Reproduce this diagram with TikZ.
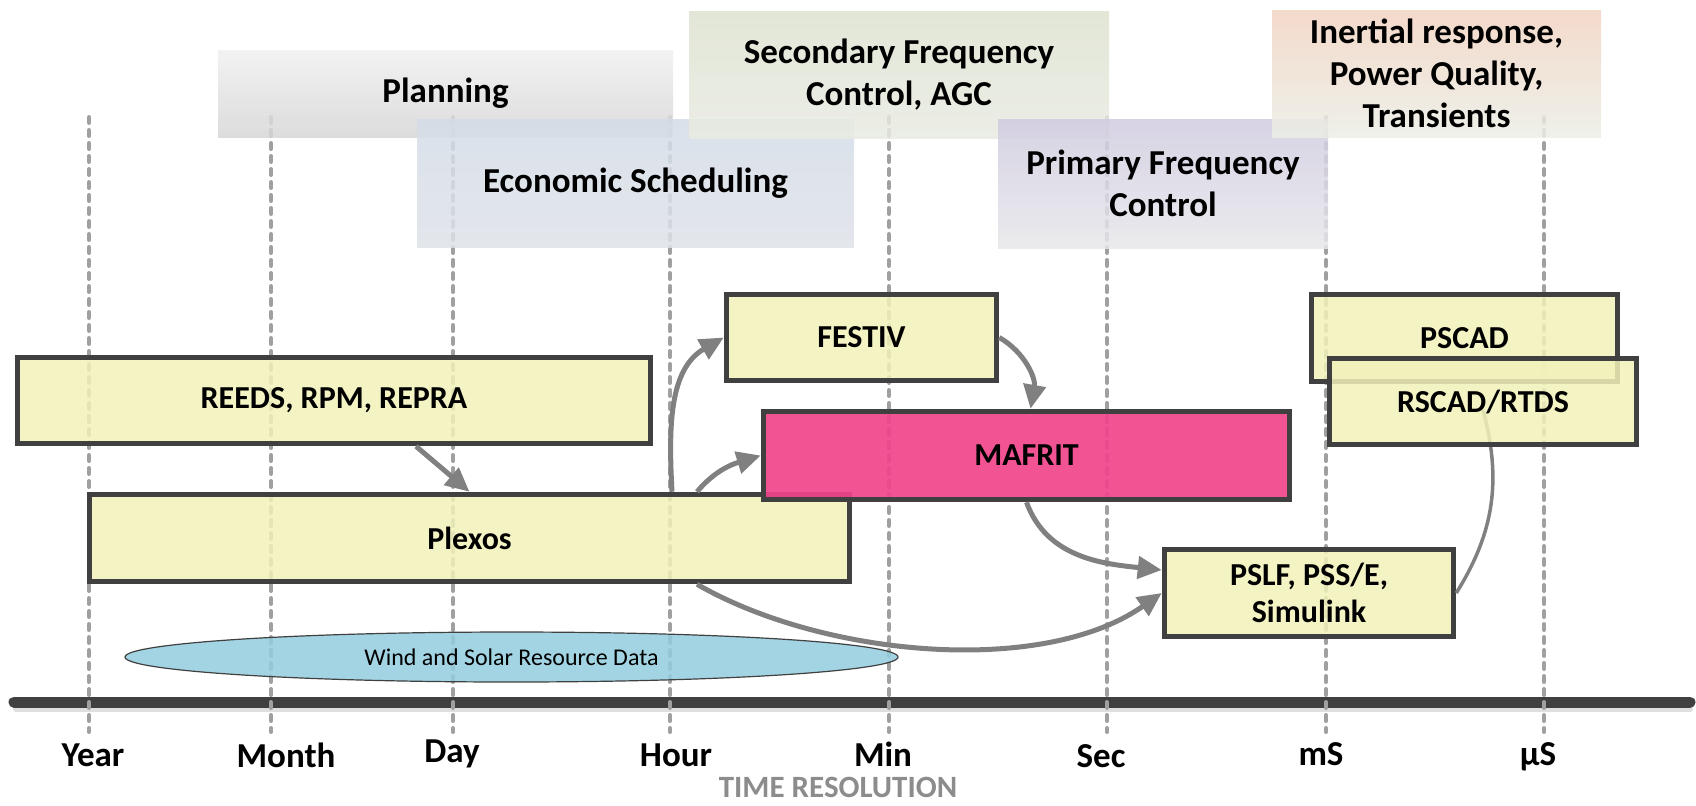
\documentclass[tikz,border=0pt]{standalone}
\usepackage{fontspec}
\setmainfont{Carlito}
\usetikzlibrary{arrows.meta,shapes.geometric}

\definecolor{toolfill}{RGB}{241,241,185}
\definecolor{toolline}{RGB}{64,64,64}
\definecolor{mafritfill}{RGB}{240,68,138}
\definecolor{gridgray}{RGB}{160,160,160}
\definecolor{flowgray}{RGB}{128,128,128}
\definecolor{windfill}{RGB}{146,205,222}
\definecolor{axisgray}{RGB}{64,64,64}
\definecolor{titlegray}{RGB}{140,140,140}

\tikzset{
  catbox/.style={draw=none, inner sep=0pt, outer sep=0pt, align=center,
    font=\fontsize{17.5}{21}\selectfont\bfseries, fill opacity=0.85, text opacity=1},
  toolbox/.style={draw=toolline, line width=2.75pt, fill=toolfill, fill opacity=0.85,
    draw opacity=1, text opacity=1, inner sep=0pt, align=center,
    font=\fontsize{16}{18.5}\selectfont\bfseries},
  flow/.style={flowgray, line width=2.5pt, -{Triangle[length=12pt,width=11pt]}},
  gridline/.style={gridgray, line width=2pt, line cap=round, dash pattern=on 3pt off 3.5pt},
  axislab/.style={font=\fontsize{17.5}{21}\selectfont\bfseries, anchor=base, inner sep=0pt},
}

\begin{document}
\begin{tikzpicture}[x=0.5pt,y=-0.5pt]
\useasboundingbox (0,0) rectangle (1696,805);

%% time axis
\draw[gray!25, line width=3pt, line cap=round] (16,709) -- (1690,709);
\draw[axisgray, line width=5.5pt, line cap=round] (14,702) -- (1690,702);
\foreach \x in {89,271,453,670,889,1107,1326,1544}{
  \draw[gridline] (\x,117) -- (\x,732);
}
\foreach \x/\lab/\yy in {93/Year/766, 286/Month/767, 452/Day/762, 676/Hour/766,
    883/Min/766, 1101/Sec/767, 1321/mS/765, 1538/µS/765}{
  \node[axislab] (lab\lab) at (\x,\yy) {\lab};
}
\node[axislab, font=\fontsize{15.5}{19}\selectfont\bfseries, text=titlegray] (resol) at (838,797) {TIME RESOLUTION};

%% background categories
\node[catbox, top color={rgb,255:red,240;green,240;blue,240}, bottom color={rgb,255:red,214;green,214;blue,214},
  minimum width=227.5pt, minimum height=43.5pt] (plan) at (445.5,93.5) {Planning};
\node[catbox, top color={rgb,255:red,212;green,220;blue,231}, bottom color={rgb,255:red,222;green,226;blue,232},
  minimum width=218.5pt, minimum height=64pt] (econ) at (635.5,183) {Economic Scheduling};
\node[catbox, top color={rgb,255:red,221;green,226;blue,207}, bottom color={rgb,255:red,232;green,235;blue,226},
  minimum width=210pt, minimum height=63.5pt] (second) at (899,74.5) {Secondary Frequency\\Control, AGC};
\node[catbox, top color={rgb,255:red,208;green,203;blue,224}, bottom color={rgb,255:red,231;green,231;blue,234},
  minimum width=165pt, minimum height=64.5pt] (prim) at (1163,183.5) {Primary Frequency\\Control};
\node[catbox, top color={rgb,255:red,242;green,211;blue,194}, bottom color={rgb,255:red,235;green,238;blue,230},
  minimum width=164.5pt, minimum height=63.5pt] (inert) at (1436.5,73.5) {Inertial response,\\Power Quality,\\Transients};

%% tools
\node[ellipse, draw=toolline, line width=0.6pt, fill=windfill, fill opacity=0.85, text opacity=1,
  minimum width=386.5pt, minimum height=25pt, inner sep=0pt,
  font=\fontsize{12}{14}\selectfont] (wind) at (511.5,657) {Wind and Solar Resource Data};
\node[toolbox, minimum width=316.5pt, minimum height=43pt] (reeds) at (334,400.5) {REEDS, RPM, REPRA};
\node[toolbox, minimum width=380pt, minimum height=43.5pt] (plexos) at (469.5,538) {Plexos};
\node[toolbox, minimum width=135pt, minimum height=43pt] (festiv) at (861.5,337.5) {FESTIV};
\node[toolbox, fill=mafritfill, fill opacity=0.92, minimum width=263pt, minimum height=44pt] (mafrit) at (1026.5,455.5) {MAFRIT};
\node[toolbox, minimum width=153pt, minimum height=43.5pt] (pscad) at (1464.5,338) {PSCAD};
\node[toolbox, minimum width=144.5pt, minimum height=43.5pt] (pslf) at (1309,593) {PSLF, PSS/E,\\Simulink};
\coordinate (rscadin) at (1483,410);
\draw[flowgray, line width=1.75pt] (pslf.east) to[out=58,in=-75] (rscadin);
\node[toolbox, minimum width=153.5pt, minimum height=43pt] (rscad) at (1483,401.5) {RSCAD/RTDS};

%% links
\draw[flow] ([xshift=41pt]reeds.south) -- (plexos.north);
\draw[flow] ([xshift=101.25pt]plexos.north) to[out=93,in=210] (festiv.west);
\draw[flow] ([xshift=113.75pt]plexos.north) to[out=50,in=197] (mafrit.west);
\draw[flow] (festiv.east) to[out=-30,in=80] ([xshift=2pt]mafrit.north);
\draw[flow] (mafrit.south) to[out=-70,in=174] ([yshift=11.5pt]pslf.west);
\draw[flow] ([xshift=113.75pt]plexos.south) to[out=-30,in=215,looseness=0.8] (pslf.west);
\end{tikzpicture}
\end{document}
